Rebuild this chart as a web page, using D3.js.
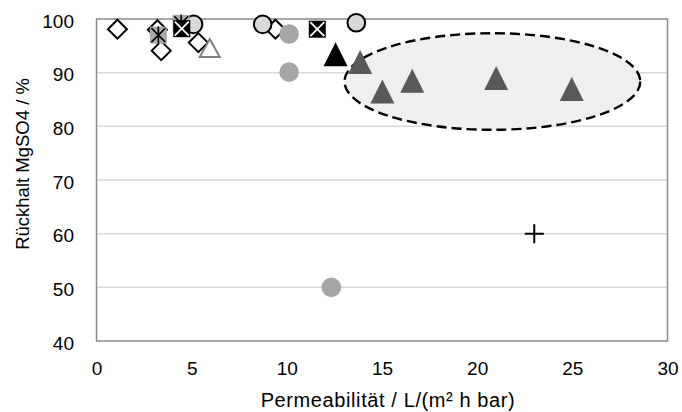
<!DOCTYPE html>
<html>
<head>
<meta charset="utf-8">
<script src="https://cdn.jsdelivr.net/npm/d3@7"></script>
<style>
  body { margin: 0; background: #fff; }
  svg { display: block; font-family: "Liberation Sans", Arial, sans-serif; }
</style>
</head>
<body>
<div class="chart"></div>
<script>
// ---- data (x = permeability, y = retention %)
const diamondX = [1.1, 3.2, 3.4, 5.35, 9.4];
const diamondY = [98.1, 98.0, 94.1, 95.6, 98.1];
const circleLightX = [5.1, 8.73, 13.65];
const circleLightY = [99.0, 99.0, 99.3];
const starSquareX = [3.25, 4.45];
const starSquareY = [97.0, 99.2];
const crossSquareX = [4.48, 11.6];
const crossSquareY = [98.2, 98.1];
const openTriX = [5.95];
const openTriY = [94.6];
const circleGrayX = [10.12, 10.12, 12.34];
const circleGrayY = [97.2, 90.1, 50.0];
const blackTriX = [12.56];
const blackTriY = [93.45];
const darkTriX = [13.85, 15.02, 16.59, 21.0, 24.97];
const darkTriY = [92.0, 86.5, 88.5, 89.0, 86.95];
const plusX = [23.0];
const plusY = [60.0];

// dashed ellipse around the dark triangles (centre and radii in data units)
const ellipseCentre = [20.8, 88.35];
const ellipseRadius = [7.77, 9.0];

const xTicks = [0, 5, 10, 15, 20, 25, 30];
const yTicks = [40, 50, 60, 70, 80, 90, 100];
const xTitle = "Permeabilität / L/(m² h bar)";
const yTitle = "Rückhalt MgSO4 / %";

// ---- dimensions
var W = 682, H = 412;
var plot = {left: 96.5, right: 667.5, top: 19, bottom: 341};

var svg = d3.select(".chart")
  .append("svg")
    .attr("width", W)
    .attr("height", H);

var x = d3.scaleLinear().domain([0, 30]).range([plot.left, plot.right]);
var y = d3.scaleLinear().domain([40, 100]).range([plot.bottom, plot.top]);

// ---- gridlines
svg.append("g")
  .selectAll("line")
  .data(yTicks.slice(1, -1))
  .enter().append("line")
    .attr("x1", plot.left).attr("x2", plot.right)
    .attr("y1", d => y(d)).attr("y2", d => y(d))
    .attr("stroke", "#d9d9d9")
    .attr("stroke-width", 1.5);

// ---- ellipse (below the markers)
var ex = x(ellipseCentre[0]), ey = y(ellipseCentre[1]);
svg.append("ellipse")
  .attr("cx", ex).attr("cy", ey)
  .attr("rx", x(ellipseCentre[0] + ellipseRadius[0]) - ex)
  .attr("ry", ey - y(ellipseCentre[1] + ellipseRadius[1]))
  .attr("fill", "#efefef")
  .attr("stroke", "#000")
  .attr("stroke-width", 2.4)
  .attr("stroke-dasharray", "10,5");

// ---- frame
svg.append("rect")
  .attr("x", plot.left).attr("y", plot.top)
  .attr("width", plot.right - plot.left)
  .attr("height", plot.bottom - plot.top)
  .attr("fill", "none")
  .attr("stroke", "#898989")
  .attr("stroke-width", 1.5);

// ---- axes (labels only)
var xAxis = svg.append("g")
  .attr("transform", "translate(0," + plot.bottom + ")")
  .call(d3.axisBottom(x).tickValues(xTicks).tickSize(0).tickPadding(0));
xAxis.select(".domain").remove();
xAxis.selectAll("text")
  .attr("y", 34).attr("dy", null)
  .style("font-size", "19px").style("font-family", "Liberation Sans, Arial").attr("fill", "#000");

var yAxis = svg.append("g")
  .attr("transform", "translate(74,0)")
  .call(d3.axisLeft(y).tickValues(yTicks).tickSize(0).tickPadding(0));
yAxis.select(".domain").remove();
yAxis.selectAll("text")
  .attr("x", 0).attr("dy", "8.3")
  .style("font-size", "19px").style("font-family", "Liberation Sans, Arial").attr("fill", "#000");

// ---- titles
svg.append("text")
  .attr("x", 388).attr("y", 407)
  .attr("text-anchor", "middle")
  .style("font-size", "20px")
  .style("letter-spacing", "0.6px")
  .text(xTitle);

svg.append("text")
  .attr("transform", "translate(29,164)rotate(-90)")
  .attr("text-anchor", "middle")
  .style("font-size", "18.5px")
  .text(yTitle);

// ---- marker helpers
function pairs(xs, ys) { return xs.map((v, i) => [v, ys[i]]); }

function layer(xs, ys) {
  return svg.append("g").selectAll("g")
    .data(pairs(xs, ys))
    .enter().append("g")
      .attr("transform", d => "translate(" + x(d[0]) + "," + y(d[1]) + ")");
}

function triangle(w, h) {
  return "M0," + (-h / 2) + "L" + (w / 2) + "," + (h / 2) + "L" + (-w / 2) + "," + (h / 2) + "Z";
}

// diamonds
layer(diamondX, diamondY).append("path")
  .attr("d", "M0,-9.5L9.5,0L0,9.5L-9.5,0Z")
  .attr("fill", "#fff").attr("stroke", "#000").attr("stroke-width", 2);

// light grey circles
layer(circleLightX, circleLightY).append("circle")
  .attr("r", 8.8)
  .attr("fill", "#d9d9d9").attr("stroke", "#000").attr("stroke-width", 2);

// grey squares with asterisk
var st = layer(starSquareX, starSquareY);
st.append("rect")
  .attr("x", -8.5).attr("y", -8.5).attr("width", 17).attr("height", 17)
  .attr("fill", "#ababab");
st.append("path")
  .attr("d", "M0,-8.5V8.5M-7,-7L7,7M7,-7L-7,7")
  .attr("stroke", "#000").attr("stroke-width", 1.6);

// black squares with white cross
var cs = layer(crossSquareX, crossSquareY);
cs.append("rect")
  .attr("x", -8.5).attr("y", -8.5).attr("width", 17).attr("height", 17)
  .attr("fill", "#000");
cs.append("path")
  .attr("d", "M-7,-7L7,7M7,-7L-7,7")
  .attr("stroke", "#fff").attr("stroke-width", 1.8);

// open triangle
layer(openTriX, openTriY).append("path")
  .attr("d", triangle(20, 18))
  .attr("fill", "#fff").attr("stroke", "#7f7f7f").attr("stroke-width", 2);

// grey circles
layer(circleGrayX, circleGrayY).append("circle")
  .attr("r", 9.8)
  .attr("fill", "#a6a6a6");

// black triangle
layer(blackTriX, blackTriY).append("path")
  .attr("d", triangle(24, 24))
  .attr("fill", "#000");

// dark grey triangles
layer(darkTriX, darkTriY).append("path")
  .attr("d", triangle(24, 24))
  .attr("fill", "#595959");

// plus
layer(plusX, plusY).append("path")
  .attr("d", "M-9.5,0H9.5M0,-9.5V9.5")
  .attr("stroke", "#000").attr("stroke-width", 2);
</script>
</body>
</html>
